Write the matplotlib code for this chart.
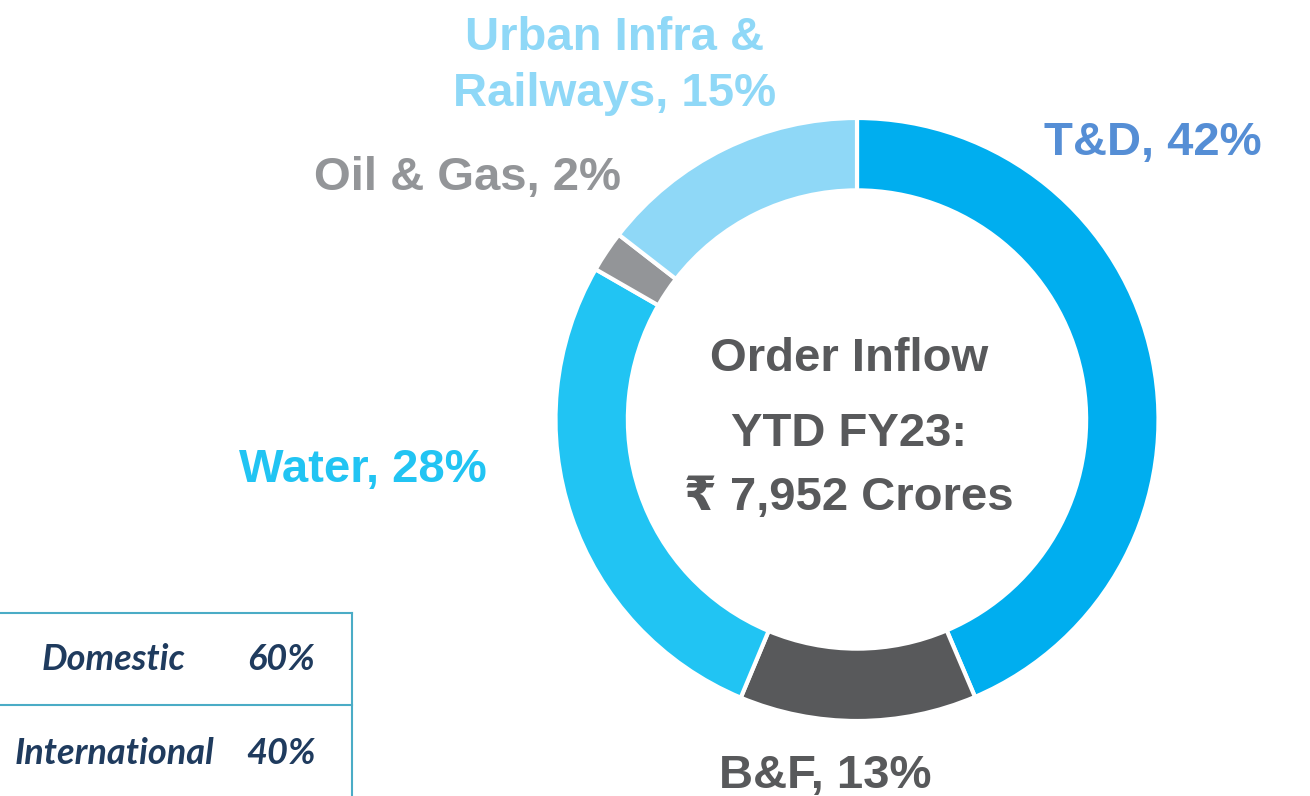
import matplotlib.pyplot as plt

# segment shares as drawn (clockwise from 12 o'clock)
segments = ['T&D', 'B&F', 'Water', 'Oil & Gas', 'Urban Infra & Railways']
shares = [43.6, 12.7, 27.0, 2.2, 14.5]
colors = ['#00AEEF', '#58595B', '#21C4F3', '#939598', '#8FD8F7']

# labels as printed on the slide
label_texts = ['T&D, 42%', 'B&F, 13%', 'Water, 28%', 'Oil & Gas, 2%', 'Urban Infra &\nRailways, 15%']
label_colors = ['#558ED5', '#58595B', '#21C4F3', '#939598', '#8FD8F7']

center_lines = ['Order Inflow', 'YTD FY23:', '\u20b9 7,952 Crores']

geo_names = ['Domestic', 'International']
geo_pct = ['60%', '40%']

W, H = 1310, 796
fig = plt.figure(figsize=(W / 100, H / 100), dpi=100)
ax = fig.add_axes([0, 0, 1, 1])

# donut (pixel coordinates, y measured from bottom)
cx, cy, R = 857, H - 419.5, 301.5
ax.pie(shares, colors=colors, startangle=90, counterclock=False,
       center=(cx, cy), radius=R,
       wedgeprops=dict(width=R * 0.24, edgecolor='white', linewidth=3))
ax.set_xlim(0, W)
ax.set_ylim(0, H)
ax.set_aspect('equal')
ax.axis('off')

fam = ['Liberation Sans', 'DejaVu Sans']

# slice labels (positions in px from the top-left)
label_pos = [(1153, 143), (825, 776), (363, 470), (467, 178), (615, 66)]
for txt, col, (x, y) in zip(label_texts, label_colors, label_pos):
    ax.text(x, H - y, txt, color=col, fontsize=34, fontweight='bold',
            family=fam, ha='center', va='center', multialignment='center',
            linespacing=1.38)

# centre text
for line, y in zip(center_lines, [359, 434, 498]):
    ax.text(849, H - y, line, color='#58595B', fontsize=34, fontweight='bold',
            family=fam, ha='center', va='center')

# domestic / international box
box_col = '#4BACC6'
ax.plot([0, 352], [H - 613, H - 613], color=box_col, lw=1.5)
ax.plot([0, 352], [H - 705, H - 705], color=box_col, lw=1.5)
ax.plot([352, 352], [H - 613, 0], color=box_col, lw=1.5)
for name, pct, y in zip(geo_names, geo_pct, [660, 753]):
    ax.text(114, H - y, name, color='#1F3B5E', fontsize=26, fontweight='bold',
            fontstyle='italic', family=['Lato', 'DejaVu Sans'], ha='center', va='center')
    ax.text(281, H - y, pct, color='#1F3B5E', fontsize=26, fontweight='bold',
            fontstyle='italic', family=['Lato', 'DejaVu Sans'], ha='center', va='center')

fig.savefig('out.png', dpi=100)
